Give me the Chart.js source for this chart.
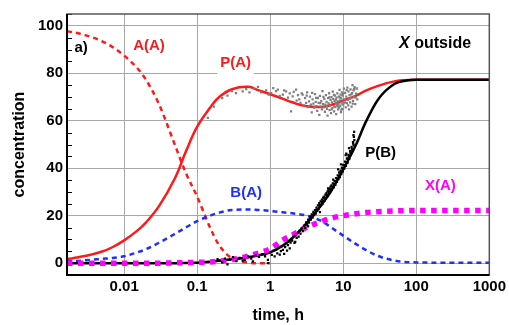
<!DOCTYPE html>
<html><head><meta charset="utf-8">
<script src="https://cdn.jsdelivr.net/npm/chart.js@4/dist/chart.umd.min.js"></script>
<style>html,body{margin:0;padding:0;background:#fff}#wrap{width:509px;height:325px}</style>
</head><body><div id="wrap"><canvas id="c" width="509" height="325"></canvas></div>
<script>
// ---- data ----
const times = [0.00165,0.002,0.003,0.005,0.007,0.01,0.015,0.02,0.03,0.05,0.07,0.1,0.15,0.2,0.3,0.5,0.7,1,1.5,2,3,5,7,10,15,20,30,50,70,100,200,500,1000];
const A_A = [97.7,97.3,96,93.5,91,87.5,82.3,77.2,67,49.5,38,28,15,7.5,2,0.2,0,0];
const P_A = [1.7,2.1,3.1,4.9,6.8,9.6,13.6,17.2,24,36,47,57.5,65.5,70,73.3,74.3,72.8,71.2,69.2,67.8,66.2,65.8,66.8,68.6,70.6,72.6,74.7,76.6,77.1,77.3,77.3,77.3,77.3];
const B_A = [0.7,0.85,1.2,1.8,2.2,2.9,4.5,5.9,8.6,12.4,15,17.7,20,21.3,22.4,22.6,22.4,22,21.4,21,20.2,17.8,14.8,11.6,8,5.7,3,1.1,0.5,0.3,0.2,0.2,0.2];
const X_A = [0,0,0,0,0,0,0,0,0,0.1,0.2,0.3,0.5,0.8,1.5,3,4.3,6,9.8,11.8,14.8,17.5,19,20,20.8,21.3,21.7,22,22.1,22.2,22.2,22.2,22.2];
const P_B = [0,0,0,0,0,0,0,0,0,0,0.1,0.2,0.6,1,1.6,2.5,3.3,4.5,7.5,10.5,16,24.5,31,39.5,50,59,69,75.5,76.9,77.3,77.3,77.3,77.3];
const grayPts = [[0.14,61.2],[0.17,66],[0.22,69.6],[0.26,70.6],[0.3,72.5],[0.34,71.7],[0.42,72.4],[0.47,73.3],[0.52,72],[0.6,73.5],[0.68,74.3],[0.75,72],[0.88,72.8],[0.95,71],[1.03,71.7],[1.1,73.8],[1.2,72.5],[1.27,73.1],[1.35,70.5],[1.49,71],[1.55,72.8],[1.65,72.4],[1.75,69.8],[1.85,71.5],[1.93,64],[2.03,70.3],[2.1,72.2],[2.26,73.1],[2.3,68.5],[2.4,70.8],[2.5,69],[2.6,67.5],[2.7,71.5],[2.78,71],[2.9,66.5],[3.0,69.5],[3.1,67.5],[3.2,72],[3.3,65.8],[3.4,68.2],[3.5,70.2],[3.6,66.8],[3.7,63.5],[3.8,69],[3.9,67.2],[4.0,65.5],[4.1,71.2],[4.2,68],[4.3,66.2],[4.4,64.2],[4.5,69.6],[4.6,67.5],[4.7,62.5],[4.8,70.5],[4.9,66],[5.0,68.3],[5.1,64.8],[5.2,72.5],[5.3,67],[5.4,65.6],[5.5,69.2],[5.6,63.8],[5.7,66.8],[5.8,70.8],[5.9,68],[6.0,65],[6.1,62.2],[6.2,69.5],[6.3,67.3],[6.4,71.6],[6.5,64.5],[6.6,66.4],[6.7,68.8],[6.8,63.2],[6.9,70],[7.0,67.8],[7.1,65.3],[7.2,72.3],[7.3,69.2],[7.4,66.2],[7.5,64],[7.6,68.4],[7.7,70.6],[7.8,65.8],[7.9,67.5],[8.0,62.8],[8.1,69.8],[8.2,66.6],[8.3,71.5],[8.4,68.2],[8.5,64.8],[8.6,67],[8.7,70.2],[8.8,65.5],[8.9,73],[9.0,68.6],[9.1,66.3],[9.2,71],[9.3,63.6],[9.4,69.4],[9.5,67.2],[9.6,72],[9.7,65],[9.8,70.6],[9.9,68],[10.0,66.8],[10.2,73.5],[10.4,69],[10.6,71.8],[10.8,65.6],[11.0,70.2],[11.2,67.4],[11.4,74],[11.6,68.8],[11.8,72.4],[12.0,64.8],[12.2,70.8],[12.4,67.8],[12.6,73.2],[12.8,69.6],[13.0,66],[13.2,71.6],[13.4,75],[13.6,68.4],[13.8,72.8],[14.0,70],[14.3,74.2],[14.6,67],[15.0,71.4],[15.3,73.6],[15.6,69],[3.15,70.6],[3.75,71.8],[4.25,69.7],[4.85,67.4],[5.35,70.1],[5.95,66.1],[6.45,69.9],[6.95,64.8],[7.45,70.9],[7.95,68.9],[8.45,66.1],[8.95,69.9],[9.45,64.6],[9.95,71.3],[10.5,67.7],[11.1,72.9],[11.7,66.5],[12.3,69.3],[12.9,71.1],[13.5,67.2],[14.1,73.3],[14.8,69.8]];
const blackPts = [[0.19,1.7],[0.2,1.2],[0.22,0.3],[0.24,1.9],[0.26,-0.5],[0.28,1.5],[0.31,2.5],[0.34,0.8],[0.38,2.2],[0.42,1.1],[0.45,1.4],[0.5,2.8],[0.55,1.9],[0.58,0.7],[0.63,3.2],[0.7,2.6],[0.78,3.8],[0.85,2.9],[0.93,1.4],[0.93,0],[1.0,4.6],[1.05,3.5],[1.1,5.2],[1.15,2.8],[1.2,5.6],[1.25,4.1],[1.3,6.4],[1.35,3.6],[1.4,5.1],[1.45,7.2],[1.49,5.6],[1.55,3.9],[1.6,6.8],[1.65,8.4],[1.7,5.3],[1.75,7.6],[1.8,9.3],[1.85,6.2],[1.9,8.7],[1.95,10.2],[2.0,9.5],[2.1,11.4],[2.15,8.5],[2.2,11.5],[2.3,10.6],[2.4,12.8],[2.45,11.2],[2.5,13.6],[2.6,12.4],[2.7,14.6],[2.8,13.5],[2.9,15.8],[3.0,14.9],[3.1,17.2],[3.2,16],[3.3,18.3],[3.4,17.1],[3.5,19.6],[3.6,18.3],[3.7,20.5],[3.8,19.2],[3.9,21.6],[4.0,20.2],[4.1,22.3],[4.2,20.9],[4.3,23.4],[4.4,22],[4.5,24.3],[4.6,22.8],[4.7,25.3],[4.8,23.7],[4.9,26],[5.0,24.5],[5.1,26.8],[5.2,25],[5.3,27.6],[5.4,26],[5.5,28],[5.6,26.4],[5.7,28.9],[5.8,27.3],[5.9,29.5],[6.0,27.8],[6.1,30.2],[6.2,28.4],[6.3,30.8],[6.4,29.2],[6.5,31.4],[6.6,29.8],[6.7,32.2],[6.8,30.4],[6.9,32.8],[7.0,31],[7.2,33.6],[7.4,31.9],[7.6,34.6],[7.8,33],[8.0,35.8],[8.2,34.2],[8.4,37],[8.6,35.4],[8.8,38.2],[9.0,36.3],[9.2,39],[9.4,37.5],[9.6,40.2],[9.8,38.6],[10.0,41.4],[10.3,39.8],[10.6,42.8],[10.9,41],[11.2,44],[11.5,42.4],[11.8,45.6],[12.1,43.9],[12.4,47.2],[12.7,45.6],[13.0,49],[13.3,47.4],[13.6,51],[13.9,49.6],[14.0,53.2],[14.1,55.3],[13.8,54],[8.5,39.5],[10.8,45.5],[6.2,31.5],[4.8,21.5],[3.3,15.5],[2.2,9],[3.05,16.1],[3.45,18.4],[3.95,20.9],[4.35,22.6],[4.75,24.6],[5.15,25.9],[5.55,27.2],[5.95,28.7],[6.35,30],[6.75,31.3],[7.1,32.2],[7.5,33.2],[7.9,34.5],[8.3,35.6],[8.7,36.8],[9.1,37.7],[9.5,38.9],[9.9,40],[10.4,41.3],[10.9,42.6],[11.4,44.2],[11.9,45.2],[12.5,46.6],[13.1,48.2],[13.7,50.4],[14.2,51.8],[12.0,48.5],[11.0,46.2],[9.3,41.6],[7.3,35.2]];
const xTicks = [0.01,0.1,1,10,100,1000];
const xTickLabels = ['0.01','0.1','1','10','100','1000'];
const yTicks = [0,20,40,60,80,100];
const yTickLabels = ['0','20','40','60','80','100'];

// ---- helpers ----
const pts = (xs, ys) => ys.map((y,i)=>({x:xs[i], y:y}));
const pairs = arr => arr.map(p=>({x:p[0], y:p[1]}));
const FONT = "'Liberation Sans', Arial, sans-serif";

const labels = [
  {text:'a)', t:0.00258, v:90.8, color:'#000'},
  {text:'A(A)', t:0.0219, v:91.5, color:'#ff1a1a'},
  {text:'P(A)', t:0.336, v:84.3, color:'#ff1a1a', bg:true},
  {text:'P(B)', t:32.5, v:46.3, color:'#000'},
  {text:'B(A)', t:0.468, v:29.5, color:'#1f2fff'},
  {text:'X(A)', t:214, v:32.4, color:'#ff00ff'}
];

const decor = {
  id:'decor',
  afterDatasetsDraw(chart){
    const ctx = chart.ctx, a = chart.chartArea, xs = chart.scales.x, ys = chart.scales.y;
    ctx.save();
    ctx.strokeStyle = '#000'; ctx.lineWidth = 1;
    for (let v = -5; v <= 105; v += 5) {
      if (v % 20 === 0) continue;
      const y = Math.round(ys.getPixelForValue(v)) + 0.5;
      ctx.beginPath(); ctx.moveTo(a.left, y); ctx.lineTo(a.left + 5, y); ctx.stroke();
    }
    ctx.strokeStyle = '#555'; ctx.lineWidth = 1.5;
    ctx.strokeRect(a.left, a.top, a.right - a.left, a.bottom - a.top);
    ctx.strokeStyle = '#000'; ctx.lineWidth = 2;
    ctx.beginPath(); ctx.moveTo(a.left, a.top); ctx.lineTo(a.left, a.bottom); ctx.lineTo(a.right, a.bottom); ctx.stroke();
    ctx.font = "bold 15px " + FONT; ctx.textAlign = 'center'; ctx.textBaseline = 'middle';
    labels.forEach(l => {
      const x = xs.getPixelForValue(l.t), y = ys.getPixelForValue(l.v);
      if (l.bg) {
        const w = ctx.measureText(l.text).width;
        ctx.fillStyle = '#fff';
        ctx.fillRect(x - w/2 - 3, y - 9, w + 6, 20);
      }
      ctx.fillStyle = l.color;
      ctx.fillText(l.text, x, y);
    });
    const x0 = xs.getPixelForValue(58.2), y0 = ys.getPixelForValue(92.5);
    ctx.textAlign = 'left'; ctx.fillStyle = '#000';
    ctx.font = "italic bold 16px " + FONT;
    ctx.fillText('X', x0, y0);
    const wX = ctx.measureText('X ').width;
    ctx.font = "bold 16px " + FONT;
    ctx.fillText('outside', x0 + wX, y0);
    ctx.restore();
  }
};

const tickFont = {family: FONT, size: 15, weight: 'bold'};
const titleFont = {family: FONT, size: 16, weight: 'bold'};
const lineOpts = {pointRadius:0, cubicInterpolationMode:'monotone', fill:false};

new Chart(document.getElementById('c'), {
  type: 'line',
  data: {
    datasets: [
      {label:'black pts', data: pairs(blackPts), showLine:false, pointStyle:'rect', pointRadius:1.6, pointBackgroundColor:'#000', pointBorderWidth:0},
      {label:'gray pts', data: pairs(grayPts), showLine:false, pointStyle:'rect', pointRadius:1.6, pointBackgroundColor:'#7f7f7f', pointBorderWidth:0},
      Object.assign({label:'X(A)', data: pts(times, X_A), borderColor:'#ff00ff', borderWidth:5.5, borderDash:[5.5,5.5]}, lineOpts),
      Object.assign({label:'P(B)', data: pts(times, P_B), borderColor:'#000', borderWidth:2.5}, lineOpts),
      Object.assign({label:'B(A)', data: pts(times, B_A), borderColor:'#1f2fff', borderWidth:2.5, borderDash:[5,4]}, lineOpts),
      Object.assign({label:'A(A)', data: pts(times, A_A), borderColor:'#ff1a1a', borderWidth:2.5, borderDash:[5,4]}, lineOpts),
      {label:'P(A)', data: pts(times, P_A), borderColor:'#ff1a1a', borderWidth:2.5, pointRadius:0, tension:0.4, fill:false}
    ]
  },
  options: {
    responsive:false, animation:false, devicePixelRatio:1,
    layout:{padding:{left:0, right:19, top:14, bottom:0}},
    plugins:{legend:{display:false}, tooltip:{enabled:false}},
    scales:{
      x:{type:'logarithmic', min:0.00165, max:1000,
        afterBuildTicks: s => { s.ticks = xTicks.map(v=>({value:v})); },
        afterFit: s => { s.height = 50; },
        ticks:{font:tickFont, color:'#000', padding:3, maxRotation:0, autoSkip:false,
          callback:(v)=>{ const i = xTicks.indexOf(v); return i>=0 ? xTickLabels[i] : ''; }},
        grid:{color:'#a8a8a8', lineWidth:1, drawTicks:false},
        border:{display:false},
        title:{display:true, text:'time, h', font:titleFont, color:'#000', padding:{top:0,bottom:0}}
      },
      y:{type:'linear', min:-5, max:105,
        afterBuildTicks: s => { s.ticks = yTicks.map(v=>({value:v})); },
        afterFit: s => { s.width = 67; },
        ticks:{font:tickFont, color:'#000', padding:4,
          callback:(v)=>{ const i = yTicks.indexOf(v); return i>=0 ? yTickLabels[i] : ''; }},
        grid:{color:'#a8a8a8', lineWidth:1, drawTicks:false},
        border:{display:false},
        title:{display:true, text:'concentration', font:titleFont, color:'#000', padding:{top:9.5,bottom:0}}
      }
    }
  },
  plugins:[decor]
});
</script>
</body></html>
